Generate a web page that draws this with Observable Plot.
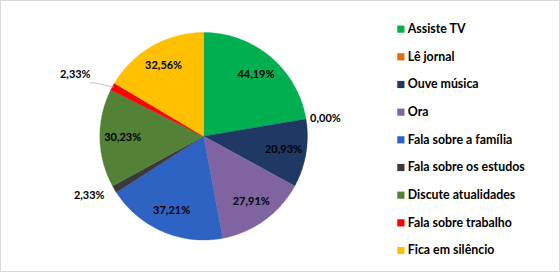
<!DOCTYPE html>
<html>
<head>
<meta charset="utf-8">
<script src="https://cdn.jsdelivr.net/npm/d3@7"></script>
<script src="https://cdn.jsdelivr.net/npm/@observablehq/plot@0.6"></script>
<style>
  html, body { margin: 0; padding: 0; background: #fff; }
  #wrap { position: relative; width: 560px; height: 272px; box-sizing: border-box; border: 1px solid #d9d9d9; overflow: hidden; }
  #pie, #legend { position: absolute; top: -1px; }
  #pie { left: -1px; }
  #legend { left: 389px; }
  svg { overflow: visible; }
</style>
</head>
<body>
<div id="wrap"><div id="pie"></div><div id="legend"></div></div>
<script>
const categories = ["Assiste TV", "Lê jornal", "Ouve música", "Ora", "Fala sobre a família", "Fala sobre os estudos", "Discute atualidades", "Fala sobre trabalho", "Fica em silêncio"];
const values = [44.19, 0.00, 20.93, 27.91, 37.21, 2.33, 30.23, 2.33, 32.56];
const labels = ["44,19%", "0,00%", "20,93%", "27,91%", "37,21%", "2,33%", "30,23%", "2,33%", "32,56%"];
const colors = ["#00B050", "#E46C0A", "#1F3864", "#8064A2", "#2E63C4", "#3A3A3A", "#538135", "#FF0000", "#FFC000"];

const W = 560, H = 272, R = 104, CX = 203.5, CY = 136;
const font = "Lato, 'Open Sans', sans-serif";

const arcs = d3.pie().sort(null).value(d => d)(values);

// slice polygons
const slicePts = [];
arcs.forEach((a, i) => {
  if (a.endAngle - a.startAngle <= 0) return;
  const n = Math.max(2, Math.ceil((a.endAngle - a.startAngle) / 0.02));
  slicePts.push({k: i, x: 0, y: 0});
  for (let j = 0; j <= n; j++) {
    const t = a.startAngle + (a.endAngle - a.startAngle) * j / n;
    slicePts.push({k: i, x: Math.sin(t), y: Math.cos(t)});
  }
  slicePts.push({k: i, x: 0, y: 0});
});

// label placement (radius factor, anchor)
const labelRows = arcs.map((a, i) => {
  const m = (a.startAngle + a.endAngle) / 2;
  let f = 0.78, anchor = "middle";
  if (values[i] < 1) { f = 1.04; anchor = "start"; }
  else if (values[i] < 3) { f = (i === 7) ? 1.24 : 1.11; anchor = "end"; }
  return {i, text: labels[i], x: Math.sin(m) * f, y: Math.cos(m) * f, anchor, m};
});

const leader = [];
arcs.forEach((a, i) => {
  if (i === 7) {
    const m = (a.startAngle + a.endAngle) / 2;
    leader.push({x: Math.sin(m) * 0.99, y: Math.cos(m) * 0.99});
    leader.push({x: Math.sin(m) * 1.2, y: Math.cos(m) * 1.2 - 0.06});
    leader.push({x: Math.sin(m) * 1.2 - 0.04, y: Math.cos(m) * 1.2 - 0.06});
  }
});

const pie = Plot.plot({
  width: W, height: H,
  margin: 0,
  x: {domain: [-CX / R, (W - CX) / R], range: [0, W], axis: null},
  y: {domain: [-(H - CY) / R, CY / R], range: [H, 0], axis: null},
  style: {fontFamily: font, background: "transparent"},
  marks: [
    Plot.line(slicePts, {x: "x", y: "y", z: "k", fill: d => colors[d.k], stroke: d => colors[d.k], strokeWidth: 0.3, curve: "linear"}),
    Plot.line(leader, {x: "x", y: "y", stroke: "#A9B9CF", strokeWidth: 0.8}),
    ...["start", "middle", "end"].map(an =>
      Plot.text(labelRows.filter(d => d.anchor === an), {
        x: "x", y: "y", text: "text", textAnchor: an, lineAnchor: "middle",
        fill: "#000", fontSize: 11, fontWeight: "bold"
      }))
  ]
});
document.getElementById("pie").appendChild(pie);

const legend = Plot.plot({
  width: 171, height: H,
  margin: 0,
  x: {domain: [0, 171], range: [0, 171], axis: null},
  y: {domain: categories, range: [28, 253], type: "point", padding: 0, axis: null},
  style: {fontFamily: font, background: "transparent"},
  marks: [
    Plot.dot(categories, {x: 10.5, y: d => d, symbol: "square", r: 4.1, fill: (d, i) => colors[i], stroke: null}),
    Plot.text(categories, {x: 17.5, y: d => d, text: d => d, textAnchor: "start", lineAnchor: "middle", fill: "#000", fontSize: 12.5, fontWeight: "bold"})
  ]
});
document.getElementById("legend").appendChild(legend);
</script>
</body>
</html>
